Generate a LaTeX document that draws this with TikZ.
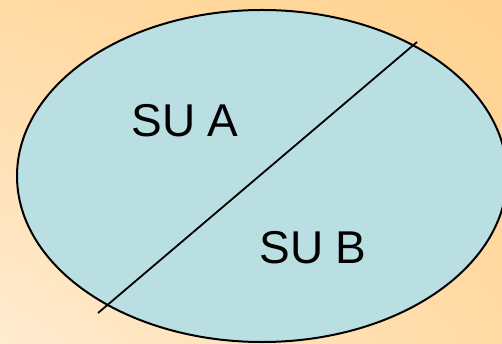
\documentclass[tikz,border=0pt]{standalone}
\usepackage{fontspec}
\setmainfont{Liberation Sans}
\usepackage{tikz}
\usetikzlibrary{calc,shadings}
\definecolor{bgdark}{HTML}{FFD391}
\definecolor{bglight}{HTML}{FFEBD0}
\definecolor{sufill}{HTML}{B9DFE3}

\begin{document}
\begin{tikzpicture}[x=1pt, y=-1pt, line join=round,
    sulabel/.style={font=\fontsize{46}{52}\selectfont, inner sep=0pt}]
    \useasboundingbox (0,0) rectangle (502,344);
    \clip (0,0) rectangle (502,344);
    % background
    \shade[lower left=bglight, upper right=bgdark, upper left=bgdark!70!bglight, lower right=bgdark!70!bglight]
        (0,344) rectangle (502,0);
    \coordinate (O) at (262,176);
    \coordinate (P) at (98,313);
    \coordinate (Q) at (417,42);
    \draw[line width=2pt, fill=sufill] (O) ellipse [x radius=245, y radius=166];
    \draw[line width=1.8pt] (P) -- (Q);
    \node[sulabel] (suA) at (185,121) {SU A};
    \node[sulabel] (suB) at (313,248) {SU B};
\end{tikzpicture}
\end{document}
